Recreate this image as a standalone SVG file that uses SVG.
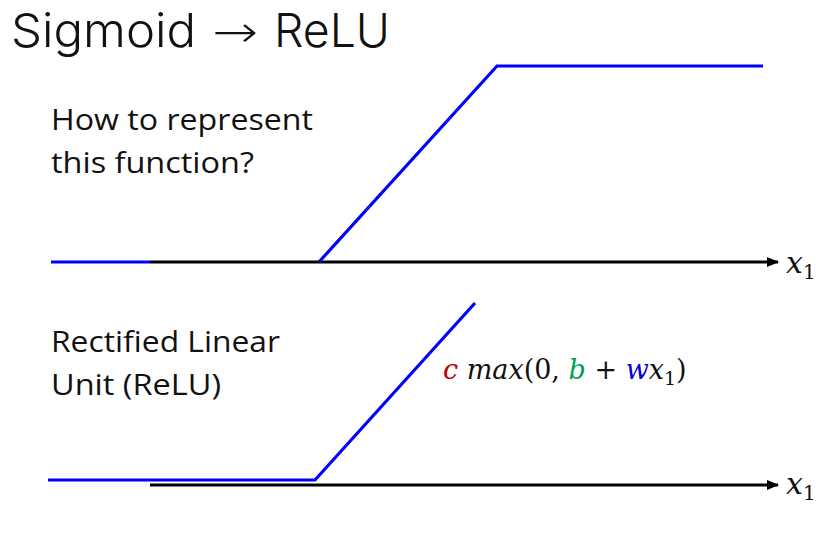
<svg xmlns="http://www.w3.org/2000/svg" width="837" height="535" viewBox="0 0 837 535">
<defs>
<marker id="ah" viewBox="0 0 12 10" refX="11" refY="5" markerWidth="12" markerHeight="10" markerUnits="userSpaceOnUse" orient="auto">
<path d="M0,0 L12,5 L0,10 Z" fill="#000"/>
</marker>
<style>
.t{font-family:"Open Sans","Noto Sans","Liberation Sans",sans-serif;fill:#111}
.h{font-family:Inter,"Open Sans","Liberation Sans",sans-serif;fill:#111}
.m{font-family:"DejaVu Serif","Liberation Serif",serif;font-style:italic;fill:#111}
.s{font-family:"DejaVu Serif","Liberation Serif",serif;font-style:normal}
.ax{stroke:#000;stroke-width:3;fill:none}
.bl{stroke:#0000ff;stroke-width:3.2;fill:none;stroke-linejoin:miter}
</style>
</defs>
<rect width="837" height="535" fill="#fff"/>
<g id="title"><text class="h" y="47" font-size="47" font-weight="300"><tspan x="11" textLength="185" lengthAdjust="spacingAndGlyphs">Sigmoid</tspan><tspan x="212" font-family="DejaVu Sans, sans-serif" font-weight="200" font-size="44" textLength="46" lengthAdjust="spacingAndGlyphs">→</tspan><tspan x="274" textLength="116" lengthAdjust="spacingAndGlyphs">ReLU</tspan></text></g>
<g id="q"><text class="t" x="51" y="130" font-size="30" textLength="262" lengthAdjust="spacingAndGlyphs">How to represent</text>
<text class="t" x="51" y="173" font-size="30" textLength="203" lengthAdjust="spacingAndGlyphs">this function?</text></g>
<g id="relu-label"><text class="t" x="51" y="352" font-size="30" textLength="229" lengthAdjust="spacingAndGlyphs">Rectified Linear</text>
<text class="t" x="51" y="395" font-size="30" textLength="170" lengthAdjust="spacingAndGlyphs">Unit (ReLU)</text></g>
<g id="formula"><text class="m" x="443" y="379" font-size="27"><tspan fill="#c00000">c</tspan> max<tspan class="s">(0, </tspan><tspan fill="#00a050">b</tspan><tspan class="s"> + </tspan><tspan fill="#0000e0">w</tspan>x<tspan class="s" font-size="19" dy="6">1</tspan><tspan class="s" dy="-6">)</tspan></text></g>
<g id="connectors">
<line class="ax" x1="150" y1="262" x2="778" y2="262" marker-end="url(#ah)"/>
<line class="ax" x1="150" y1="485" x2="778" y2="485" marker-end="url(#ah)"/>
<polyline class="bl" points="51,262 150,262"/>
<polyline class="bl" points="319,262 497,66 763,66"/>
<polyline class="bl" points="48,480 315,480 475,303"/>
</g>
<g id="x1-top"><text class="m" x="786" y="273" font-size="30">x<tspan class="s" font-size="20" dy="6">1</tspan></text></g>
<g id="x1-bot"><text class="m" x="786" y="494" font-size="30">x<tspan class="s" font-size="20" dy="6">1</tspan></text></g>
</svg>
